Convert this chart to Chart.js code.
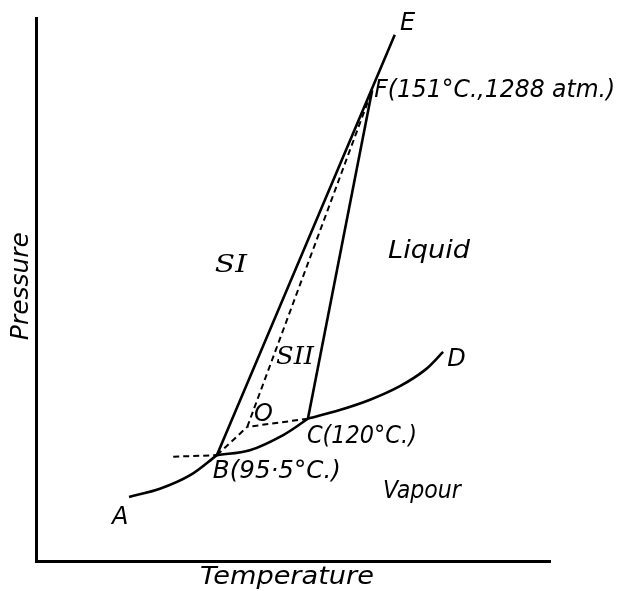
<!DOCTYPE html>
<html>
<head>
<meta charset="utf-8">
<script src="https://cdn.jsdelivr.net/npm/chart.js@4.4.0/dist/chart.umd.min.js"></script>
<style>
  html, body { margin: 0; padding: 0; background: #fff; }
  #wrap { width: 619px; height: 591px; }
</style>
</head>
<body>
<div id="wrap"><canvas id="grafica"></canvas></div>
<script>
// Diagrama de fases del azufre (unidades arbitrarias, 0-100)
const curvaAB = [{x: 18.1, y: 11.8}, {x: 24.1, y: 13.3}, {x: 30.0, y: 15.8}, {x: 35.2, y: 19.5}];
const curvaBC = [{x: 35.2, y: 19.5}, {x: 41.6, y: 20.4}, {x: 48.1, y: 23.2}, {x: 52.9, y: 26.2}];
const curvaCD = [{x: 52.9, y: 26.2}, {x: 59.1, y: 27.8}, {x: 65.0, y: 29.7}, {x: 70.8, y: 32.2}, {x: 75.7, y: 35.2}, {x: 79.2, y: 38.5}];
const lineaBE = [{x: 35.2, y: 19.5}, {x: 69.8, y: 96.9}];
const lineaCF = [{x: 52.9, y: 26.2}, {x: 65.4, y: 86.7}];
// Curvas metaestables (a trazos)
const trazoBO = [{x: 35.2, y: 19.5}, {x: 41.1, y: 24.7}];
const trazoCO = [{x: 52.9, y: 26.2}, {x: 41.1, y: 24.7}];
const trazoOF = [{x: 41.1, y: 24.7}, {x: 65.4, y: 86.7}];
const trazoB = [{x: 26.7, y: 19.2}, {x: 35.2, y: 19.5}];

const etiquetas = ['E', 'F(151°C.,1288 atm.)', 'Liquid', 'SI', 'SII', 'O', 'C(120°C.)', 'B(95·5°C.)', 'Vapour', 'A', 'D'];
const posEtiquetas = [[70.8, 97.8], [65.8, 85.5], [68.5, 55.8], [34.8, 53.2], [46.7, 36.3], [42.4, 25.8], [52.7, 21.7], [34.4, 15.3], [67.5, 11.6], [14.8, 6.8], [80.0, 35.9]];
// ancho en pixeles de cada texto (0 = natural)
const anchoEtiquetas = [0, 241, 82, 32, 38, 0, 110, 128, 78, 0, 0];

function solido(datos) {
    return { data: datos, borderColor: '#000', borderWidth: 2.6, showLine: true, pointRadius: 0,
             tension: 0.35, fill: false };
}
function trazos(datos) {
    return { data: datos, borderColor: '#000', borderWidth: 2, borderDash: [6, 4], showLine: true,
             pointRadius: 0, fill: false };
}

const fuente = 'italic 24px "DejaVu Sans"';
const fuenteRomana = 'italic 24px "DejaVu Serif"';

function texto(ctx, t, x, y, ancho) {
    ctx.save();
    ctx.font = (t === 'SI' || t === 'SII') ? fuenteRomana : fuente;
    const w = ctx.measureText(t).width;
    ctx.translate(x, y);
    if (ancho) ctx.scale(ancho / w, 1);
    ctx.fillText(t, 0, 0);
    ctx.restore();
}

const pluginTextos = {
    id: 'textos',
    afterDatasetsDraw(chart) {
        const ctx = chart.ctx;
        const sx = chart.scales.x, sy = chart.scales.y;
        ctx.save();
        ctx.fillStyle = '#000';
        ctx.textAlign = 'left';
        ctx.textBaseline = 'alphabetic';
        etiquetas.forEach((t, i) => {
            texto(ctx, t, sx.getPixelForValue(posEtiquetas[i][0]), sy.getPixelForValue(posEtiquetas[i][1]), anchoEtiquetas[i]);
        });
        // titulos de los ejes
        texto(ctx, 'Temperature', sx.getPixelForValue(31.9), sy.getPixelForValue(-4.2), 174);
        ctx.translate(sx.getPixelForValue(-1.6), sy.getPixelForValue(50.8));
        ctx.rotate(-Math.PI / 2);
        texto(ctx, 'Pressure', -55, 0, 108);
        ctx.restore();
    }
};

document.addEventListener('DOMContentLoaded', function() {
    new Chart(document.getElementById('grafica').getContext('2d'), {
        type: 'scatter',
        data: {
            datasets: [
                solido(curvaAB), solido(curvaBC), solido(curvaCD), solido(lineaBE), solido(lineaCF),
                trazos(trazoBO), trazos(trazoCO), trazos(trazoOF), trazos(trazoB)
            ]
        },
        options: {
            responsive: true,
            maintainAspectRatio: false,
            animation: false,
            layout: { padding: { left: 36, right: 69, top: 18, bottom: 30 } },
            plugins: { legend: { display: false }, tooltip: { enabled: false } },
            scales: {
                x: {
                    type: 'linear', min: 0, max: 100,
                    grid: { display: false, drawTicks: false },
                    border: { display: true, color: '#000', width: 3 },
                    ticks: { display: false }
                },
                y: {
                    type: 'linear', min: 0, max: 100,
                    grid: { display: false, drawTicks: false },
                    border: { display: true, color: '#000', width: 3 },
                    ticks: { display: false }
                }
            }
        },
        plugins: [pluginTextos]
    });
});
</script>
</body>
</html>
